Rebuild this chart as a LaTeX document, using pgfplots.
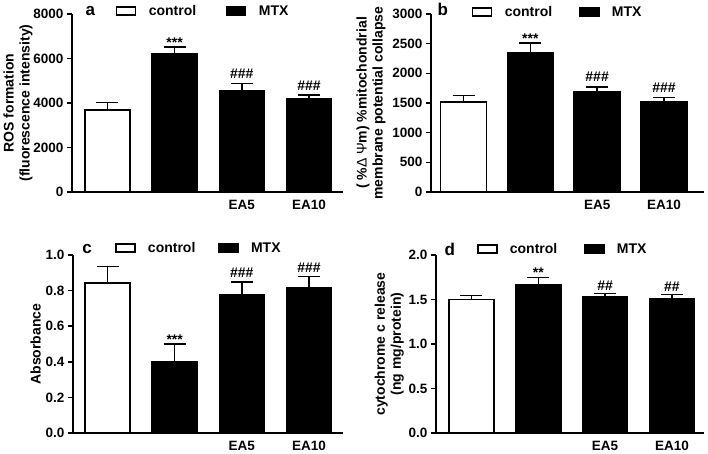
\documentclass[border=0pt]{standalone}
\usepackage{pgfplots}
\pgfplotsset{compat=1.18}
\usepackage{fontspec}
\setmainfont{Liberation Sans}
\setsansfont{Liberation Sans}
\newcommand{\tickfont}{\fontsize{13.5}{16}\selectfont\bfseries}
\newcommand{\labfont}{\fontsize{14}{16}\selectfont\bfseries}
\newcommand{\panfont}{\fontsize{17}{18}\selectfont\bfseries}
\pgfplotsset{
  panel/.style={
    scale only axis,
    height=178pt,
    clip=false,
    ybar, bar shift=0pt,
    axis x line=bottom, axis y line=left,
    axis line style={-, line width=1.5pt},
    tick align=outside,
    ytick style={line width=1.5pt, black},
    major tick length=5pt,
    xtick={2,3}, xticklabels={EA5,EA10},
    xtick style={draw=none},
    ymin=0,
    tick label style={font=\tickfont},
    /pgf/number format/assume math mode=true,
    /pgf/number format/1000 sep={},
    ylabel style={font=\labfont, align=center},
    legend columns=2,
    legend image code/.code={\draw[#1, line width=1.3pt] (0pt,-4pt) rectangle (19pt,4pt); \path[draw=none, fill=none] (0pt,0pt) -- (32pt,0pt);},
    legend style={draw=none, fill=none, inner sep=0pt, font=\labfont,
      nodes={inner sep=0pt}, column sep=0pt},
    error bars/y dir=plus, error bars/y explicit,
    error bars/error bar style={line width=1.5pt, black},
    error bars/error mark options={line width=1.5pt, black, mark size=11pt, rotate=90},
  },
  ctl/.style={fill=white, draw=black, line width=1.5pt},
  mtx/.style={fill=black, draw=black, line width=1.5pt},
}
\begin{document}
\begin{tikzpicture}
\path[use as bounding box] (0pt,0pt) rectangle (708pt,453pt);
% Panel a
\begin{axis}[panel, at={(72pt,261pt)}, anchor=south west, width=271pt,
  xmin=-0.528, xmax=3.506, ymax=8000, ytick={0,2000,4000,6000,8000},
  bar width=45pt,
  ylabel={ROS formation\\(fluorescence intensity)}, ylabel shift=-6pt,
  legend style={at={(rel axis cs:0.162,1.017)}, anchor=west}]
\addplot[ctl] coordinates {(0,3680) +- (0,340)};
\addlegendentry{control\hspace*{30pt}}
\addplot[mtx] coordinates {(1,6230) +- (0,285) (2,4535) +- (0,345) (3,4190) +- (0,165)};
\addlegendentry{MTX}
\node[font=\labfont, anchor=base] at (axis cs:1,6515) {***};
\node[font=\labfont, anchor=base, yshift=5pt] at (axis cs:2,4880) {\#\#\#};
\node[font=\labfont, anchor=base, yshift=5pt] at (axis cs:3,4355) {\#\#\#};
\node[font=\panfont, anchor=base west] at (rel axis cs:0.037,0.989) {a};
\end{axis}
% Panel b
\begin{axis}[panel, at={(431pt,261pt)}, anchor=south west, width=273pt,
  xmin=-0.487, xmax=3.6, ymax=3000, ytick={0,500,...,3000},
  bar width=46pt,
  ylabel={( \%{\mdseries Δ Ψ}m) \%mitochondrial\\membrane potential collapse},
  legend style={at={(rel axis cs:0.150,1.011)}, anchor=west}]
\addplot[ctl] coordinates {(0,1520) +- (0,106)};
\addlegendentry{control\hspace*{27pt}}
\addplot[mtx] coordinates {(1,2352) +- (0,158) (2,1683) +- (0,90) (3,1520) +- (0,73)};
\addlegendentry{MTX}
\node[font=\labfont, anchor=base] at (axis cs:1,2510) {***};
\node[font=\labfont, anchor=base, yshift=5pt] at (axis cs:2,1773) {\#\#\#};
\node[font=\labfont, anchor=base, yshift=5pt] at (axis cs:3,1593) {\#\#\#};
\node[font=\panfont, anchor=base west] at (rel axis cs:0.011,0.989) {b};
\end{axis}
% Panel c
\begin{axis}[panel, at={(73pt,20pt)}, anchor=south west, width=270pt,
  xmin=-0.514, xmax=3.506, ymax=1.0, ytick={0,0.2,0.4,0.6,0.8,1.0},
  yticklabel style={/pgf/number format/.cd, fixed, fixed zerofill, precision=1},
  bar width=45pt,
  ylabel={Absorbance}, ylabel shift=-2pt,
  legend style={at={(rel axis cs:0.156,1.039)}, anchor=west}]
\addplot[ctl] coordinates {(0,0.843) +- (0,0.093)};
\addlegendentry{control\hspace*{23pt}}
\addplot[mtx] coordinates {(1,0.398) +- (0,0.101) (2,0.776) +- (0,0.073) (3,0.815) +- (0,0.064)};
\addlegendentry{MTX}
\node[font=\labfont, anchor=base] at (axis cs:1,0.499) {***};
\node[font=\labfont, anchor=base, yshift=4pt] at (axis cs:2,0.849) {\#\#\#};
\node[font=\labfont, anchor=base, yshift=4pt] at (axis cs:3,0.879) {\#\#\#};
\node[font=\panfont, anchor=base west] at (rel axis cs:0.022,1.006) {c};
\end{axis}
% Panel d
\begin{axis}[panel, at={(436pt,20pt)}, anchor=south west, width=268pt,
  xmin=-0.531, xmax=3.48, ymax=2.0, ytick={0,0.5,1.0,1.5,2.0},
  yticklabel style={/pgf/number format/.cd, fixed, fixed zerofill, precision=1},
  bar width=45pt,
  ylabel={cytochrome c release\\(ng mg/protein)}, ylabel shift=-2pt,
  legend style={at={(rel axis cs:0.153,1.034)}, anchor=west}]
\addplot[ctl] coordinates {(0,1.50) +- (0,0.045)};
\addlegendentry{control\hspace*{27pt}}
\addplot[mtx] coordinates {(1,1.67) +- (0,0.075) (2,1.53) +- (0,0.035) (3,1.51) +- (0,0.047)};
\addlegendentry{MTX}
\node[font=\labfont, anchor=base] at (axis cs:1,1.745) {**};
\node[font=\labfont, anchor=base, yshift=3pt] at (axis cs:2,1.565) {\#\#};
\node[font=\labfont, anchor=base, yshift=3pt] at (axis cs:3,1.557) {\#\#};
\node[font=\panfont, anchor=base west] at (rel axis cs:0.019,1.0) {d};
\end{axis}
\end{tikzpicture}
\end{document}
